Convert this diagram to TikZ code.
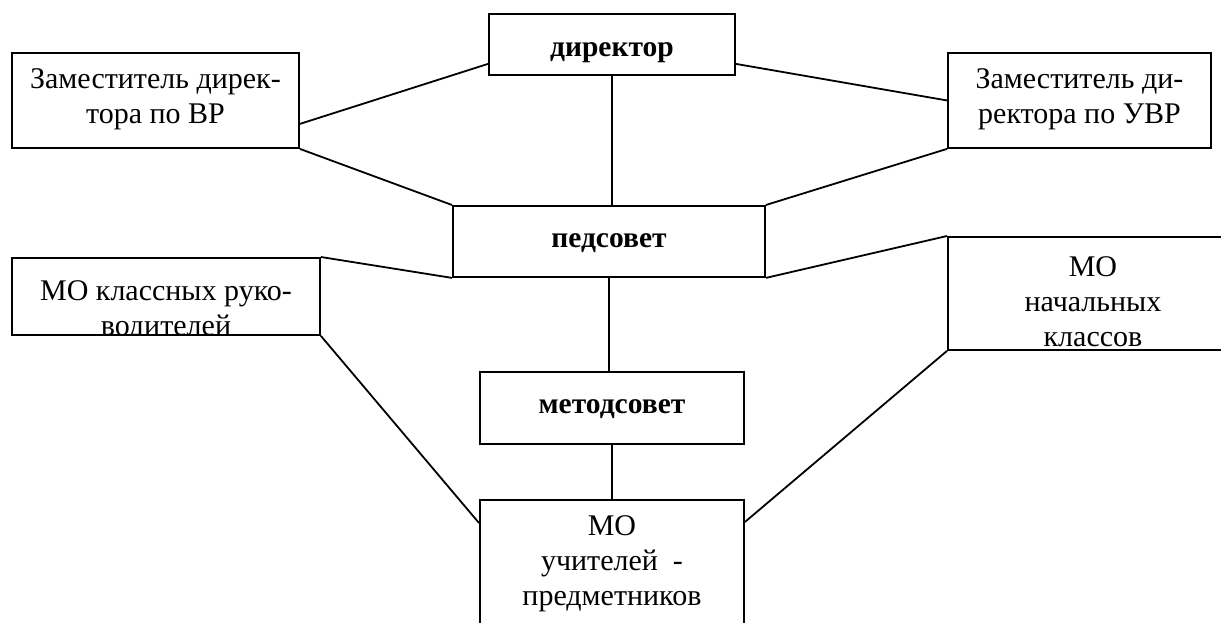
\documentclass[tikz,border=0pt]{standalone}
\usepackage{fontspec}
\setmainfont{Liberation Serif}
\usetikzlibrary{calc}
\begin{document}
\begin{tikzpicture}[x=1pt,y=-1pt,
  box/.style={draw, line width=1.9pt, inner sep=0pt, anchor=north west},
  conn/.style={line width=1.8pt},
  txt/.style={font=\fontsize{30}{35}\selectfont, align=center, inner sep=0pt, anchor=base},
  btxt/.style={font=\bfseries\fontsize{29.5}{33}\selectfont, inner sep=0pt, anchor=base}]
\fill[white] (0,0) rectangle (1221,623);
\clip (0,0) rectangle (1221,623);
% boxes
\node[box, minimum width=246, minimum height=61,
  path picture={\node[btxt] at ([yshift=-43pt]path picture bounding box.north) {директор};}] (dir) at (488,13) {};
\node[box, minimum width=287, minimum height=95,
  path picture={\node[txt] at ([yshift=-71pt]path picture bounding box.north) {Заместитель дирек-\\тора по ВР};}] (zvr) at (11,52) {};
\node[box, minimum width=263, minimum height=95,
  path picture={\node[txt] at ([yshift=-71pt]path picture bounding box.north) {Заместитель ди-\\ректора по УВР};}] (zuvr) at (947,52) {};
\node[box, minimum width=312, minimum height=71,
  path picture={\node[btxt] at ([yshift=-42pt]path picture bounding box.north) {педсовет};}] (ped) at (452,205) {};
\node[box, minimum width=308, minimum height=77,
  path picture={\node[txt] at ([yshift=-78pt]path picture bounding box.north) {МО классных руко-\\водителей};}] (mokl) at (11,257) {};
\node[box, minimum width=290, minimum height=113,
  path picture={\node[txt] at ([yshift=-110pt]path picture bounding box.north) {МО\\начальных\\классов};}] (monach) at (947,236) {};
\node[box, minimum width=264, minimum height=72,
  path picture={\node[btxt] at ([yshift=-42pt]path picture bounding box.north) {методсовет};}] (met) at (479,371) {};
\node[box, minimum width=264, minimum height=150,
  path picture={\node[txt] at ([yshift=-106pt]path picture bounding box.north) {МО\\учителей\ \ -\\предметников};}] (bot) at (479,499) {};
% connectors
\draw[conn] ([yshift=12pt]dir.south west) -- ([yshift=25pt]zvr.south east);
\draw[conn] ([yshift=12pt]dir.south east) -- (zuvr.west);
\draw[conn] (dir.south) -- (dir.south |- ped.north);
\draw[conn] (zvr.south east) -- (ped.north west);
\draw[conn] (zuvr.south west) -- (ped.north east);
\draw[conn] (mokl.north east) -- (ped.south west);
\draw[conn] (monach.north west) -- (ped.south east);
\draw[conn] (ped.south) -- (ped.south |- met.north);
\draw[conn] (met.south) -- (met.south |- bot.north);
\draw[conn] (mokl.south east) -- ([yshift=-24pt]bot.north west);
\draw[conn] (monach.south west) -- ([yshift=-23pt]bot.north east);
\end{tikzpicture}
\end{document}
